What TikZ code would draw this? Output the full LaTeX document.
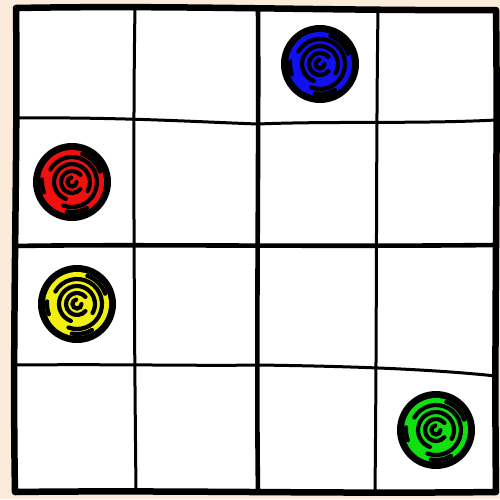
\documentclass[tikz,border=0pt]{standalone}
\usetikzlibrary{calc}
\definecolor{bgbeige}{HTML}{FBEBDA}
\definecolor{dotblue}{HTML}{1010F0}
\definecolor{dotred}{HTML}{F01010}
\definecolor{dotyellow}{HTML}{F2F010}
\definecolor{dotgreen}{HTML}{10E010}
\tikzset{
  frameline/.style={line width=6.5pt, line cap=round, line join=round},
  midline/.style={line width=4.6pt, line cap=round},
  gridline/.style={line width=3pt, line cap=round},
  swirlstroke/.style={line width=4.2pt, line cap=round},
}
\newcommand\myswirl[4]{%
  \node[circle, fill=black, minimum size=78pt, inner sep=0pt] (#1) at (#2,#3) {};
  \fill[#4] (#1.center) circle (32);
  \draw[swirlstroke] ($(#1.center)+(210:25)$) arc (210:470:25);
  \draw[swirlstroke] ($(#1.center)+(110:18)$) arc (110:390:18);
  \draw[swirlstroke] ($(#1.center)+(40:11)$) arc (40:320:11);
  \draw[swirlstroke] ($(#1.center)+(0:4.5)$) arc (0:260:4.5);
  \draw[swirlstroke] ($(#1.center)+(290:30)$) arc (290:340:30);
  \draw[swirlstroke] ($(#1.center)+(60:30)$) arc (60:100:30);
  \draw[swirlstroke] ($(#1.center)+(160:30)$) arc (160:185:30);
}
\begin{document}
\begin{tikzpicture}[x=1pt, y=-1pt]
\fill[bgbeige] (0,0) rectangle (500,499);
\useasboundingbox (0,0) rectangle (500,499);
% white board
\fill[white] (16,8) -- (496,10) -- (496,492) -- (15,492) -- cycle;
% thin grid lines
\draw[gridline] (16,118) .. controls (120,117) and (200,122) .. (258,124) .. controls (330,121) and (420,124) .. (496,120);
\draw[gridline] (15,365) .. controls (120,364) and (200,366) .. (258,365) .. controls (330,366) and (420,368) .. (496,376);
\draw[gridline] (135,8) .. controls (133,120) and (134,300) .. (136,492);
\draw[gridline] (378,10) .. controls (376,150) and (377,300) .. (375,492);
% thick middle lines
\draw[midline] (15,246) .. controls (130,244) and (300,247) .. (496,245);
\draw[midline] (258,9) .. controls (259,150) and (256,350) .. (258,492);
% frame
\draw[frameline] (16,8) .. controls (180,5) and (330,11) .. (496,10)
  .. controls (498,160) and (494,330) .. (496,492)
  .. controls (330,494) and (170,490) .. (15,492)
  .. controls (12,330) and (18,160) .. (16,8) -- cycle;
% dots
\myswirl{bluedot}{320}{64}{dotblue}
\myswirl{reddot}{72}{182}{dotred}
\myswirl{yellowdot}{77}{304}{dotyellow}
\myswirl{greendot}{436}{430}{dotgreen}
\end{tikzpicture}
\end{document}
